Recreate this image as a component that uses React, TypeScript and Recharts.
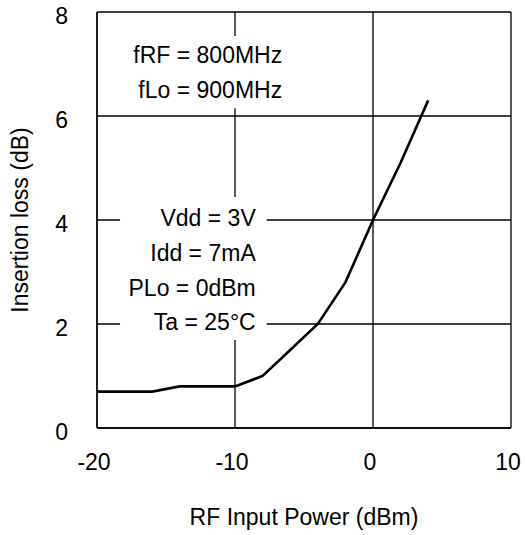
import { CartesianGrid, Line, LineChart, ReferenceArea, XAxis, YAxis } from 'recharts'

const inputPower = [-20, -16, -14, -10, -8, -6, -4, -2, 0, 2, 4]
const insertionLoss = [0.7, 0.7, 0.8, 0.8, 1.0, 1.5, 2.0, 2.8, 4.0, 5.1, 6.3]
const xTicks = [-20, -10, 0, 10]
const yTicks = [0, 2, 4, 6, 8]
const freqNotes = ['fRF = 800MHz', 'fLo = 900MHz']
const condNotes = ['Vdd = 3V', 'Idd = 7mA', 'PLo = 0dBm', 'Ta = 25°C']

const FONT = '"Liberation Sans", Arial, sans-serif'
const FS = 23
const INK = '#000'

const data = inputPower.map((p, i) => ({ p, loss: insertionLoss[i] }))

// right-aligned stack of note lines inside a white box
function notes(lines: string[], padRight: number, firstDy: number, step: number) {
  return (props: any) => {
    const vb = props.viewBox || {}
    const right = vb.x + vb.width - padRight
    return (
      <g>
        {lines.map((t, i) => (
          <text
            key={t}
            x={right}
            y={vb.y + firstDy + i * step}
            textAnchor="end"
            dominantBaseline="central"
            fontFamily={FONT}
            fontSize={FS}
            fill={INK}
          >
            {t}
          </text>
        ))}
      </g>
    )
  }
}

export default function App() {
  return (
    <div style={{ position: 'absolute', left: 0, top: 0, background: '#fff' }}>
      <LineChart
        width={527}
        height={535}
        data={data}
        margin={{ top: 12, right: 16, bottom: 0, left: 0 }}
      >
        <CartesianGrid stroke={INK} strokeWidth={1.3} />
        <XAxis
          dataKey="p"
          type="number"
          domain={[-20, 10]}
          ticks={xTicks}
          height={107}
          tickSize={0}
          tickMargin={0}
          axisLine={{ stroke: INK, strokeWidth: 1.3 }}
          tickLine={false}
          tick={({ x, y, payload }: any) => (
            <text
              x={x - 3}
              y={y + 34}
              textAnchor="middle"
              dominantBaseline="central"
              fontFamily={FONT}
              fontSize={FS}
              fill={INK}
            >
              {payload.value}
            </text>
          )}
          label={{
            value: 'RF Input Power (dBm)',
            position: 'center',
            dy: 35,
            fontFamily: FONT,
            fontSize: FS,
            fill: INK,
          }}
        />
        <YAxis
          type="number"
          domain={[0, 8]}
          ticks={yTicks}
          width={97}
          tickSize={0}
          tickMargin={29}
          axisLine={{ stroke: INK, strokeWidth: 1.3 }}
          tickLine={false}
          tick={({ x, y, payload }: any) => (
            <text
              x={x}
              y={y + 4}
              textAnchor="end"
              dominantBaseline="central"
              fontFamily={FONT}
              fontSize={FS}
              fill={INK}
            >
              {payload.value}
            </text>
          )}
          label={{
            value: 'Insertion loss (dB)',
            angle: -90,
            position: 'center',
            dx: -29,
            fontFamily: FONT,
            fontSize: FS,
            fill: INK,
          }}
        />
        <ReferenceArea
          x1={-18.33}
          x2={-6.0}
          y1={6.15}
          y2={7.54}
          fill="#fff"
          fillOpacity={1}
          stroke="none"
          label={notes(freqNotes, 8, 19, 35)}
        />
        <ReferenceArea
          x1={-18.33}
          x2={-7.7}
          y1={1.69}
          y2={4.44}
          fill="#fff"
          fillOpacity={1}
          stroke="none"
          label={notes(condNotes, 11, 21, 34.7)}
        />
        <Line
          type="linear"
          dataKey="loss"
          stroke={INK}
          strokeWidth={2.6}
          dot={false}
          isAnimationActive={false}
        />
      </LineChart>
    </div>
  )
}
